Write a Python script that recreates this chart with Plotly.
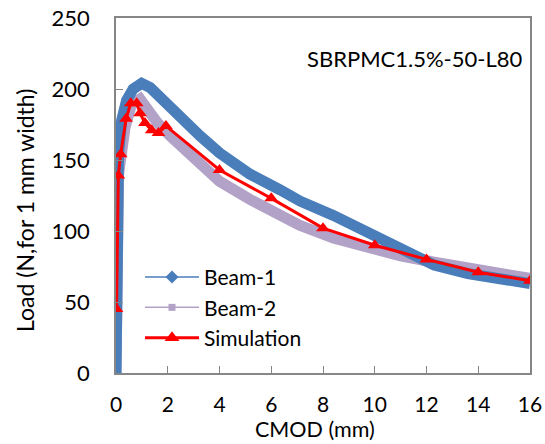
import plotly.graph_objects as go

# Measured load–CMOD response, beam 1
beam1_cmod = [0.0, 0.02, 0.05, 0.1, 0.22, 0.41, 0.66, 0.99, 1.32, 1.64, 2.09, 2.86,
              3.25, 4.0, 5.18, 6.34, 7.12, 8.4, 9.7, 11.0, 12.3, 13.6, 14.85, 16.0]
beam1_load = [0, 60, 136, 155, 178, 192, 200, 204, 201, 195, 186, 174,
              167, 155, 140, 129, 121, 111, 100, 87, 76, 70, 65.5, 63]

# Measured load–CMOD response, beam 2
beam2_cmod = [0.0, 0.02, 0.1, 0.35, 0.6, 0.93, 1.19, 1.57, 2.09, 2.86, 4.0, 5.2,
              6.34, 7.1, 8.4, 9.05, 9.7, 11.0, 12.3, 13.6, 14.85, 16.0]
beam2_load = [0, 60, 140, 173, 189, 193, 185, 177, 167, 153, 135, 122,
              111, 104, 95, 91.5, 88, 82.5, 78, 73.7, 69.7, 66.6]

# Numerical simulation
sim_cmod = [0.02, 0.09, 0.18, 0.39, 0.57, 0.8, 0.93, 1.12, 1.38, 1.64, 1.93,
            4.0, 6.0, 8.0, 10.0, 12.0, 14.0, 16.0]
sim_load = [45, 139, 154, 179, 190, 190, 183, 176, 171, 169, 174,
            143, 123, 102, 90, 80, 71, 65]

x_ticks = [0, 2, 4, 6, 8, 10, 12, 14, 16]
y_ticks = [0, 50, 100, 150, 200, 250]

BLUE = "#4a7ebb"
PURPLE = "#b3a2c7"
RED = "#ff0000"
AXIS = "#868686"
FONT = "Lato"

fig = go.Figure()

# Dense experimental records drawn as thick bands
fig.add_trace(go.Scatter(x=beam2_cmod, y=beam2_load, mode="lines",
                         line=dict(color=PURPLE, width=11), showlegend=False,
                         hoverinfo="skip"))
fig.add_trace(go.Scatter(x=beam1_cmod, y=beam1_load, mode="lines",
                         line=dict(color=BLUE, width=11), showlegend=False,
                         hoverinfo="skip"))
fig.add_trace(go.Scatter(x=sim_cmod, y=sim_load, mode="lines+markers",
                         line=dict(color=RED, width=3),
                         marker=dict(symbol="triangle-up", size=12, color=RED),
                         showlegend=False))

# Legend entries
fig.add_trace(go.Scatter(x=[None], y=[None], mode="lines+markers", name="Beam-1",
                         line=dict(color=BLUE, width=1.5),
                         marker=dict(symbol="diamond", size=10, color=BLUE)))
fig.add_trace(go.Scatter(x=[None], y=[None], mode="lines+markers", name="Beam-2",
                         line=dict(color=PURPLE, width=1.5),
                         marker=dict(symbol="square", size=7, color=PURPLE)))
fig.add_trace(go.Scatter(x=[None], y=[None], mode="lines+markers", name="Simulation",
                         line=dict(color=RED, width=3),
                         marker=dict(symbol="triangle-up", size=13, color=RED)))

fig.update_layout(
    width=545, height=444,
    margin=dict(l=116, r=15, t=18, b=71),
    paper_bgcolor="white", plot_bgcolor="white",
    font=dict(family=FONT, size=22, color="black"),
    showlegend=True,
    legend=dict(x=0.058, y=0.327, xanchor="left", yanchor="top",
                bgcolor="rgba(0,0,0,0)", font=dict(size=21),
                itemwidth=54, tracegroupgap=0),
    xaxis=dict(range=[0, 16], tickvals=x_ticks, ticks="inside", ticklen=7,
               tickcolor=AXIS, showline=True, linecolor=AXIS, linewidth=1.5,
               mirror=True, showgrid=False, zeroline=False, automargin=False,
               ticklabelstandoff=12, tickfont=dict(size=21)),
    yaxis=dict(range=[0, 250], tickvals=y_ticks, ticks="inside", ticklen=7,
               tickcolor=AXIS, showline=True, linecolor=AXIS, linewidth=1.5,
               mirror=True, showgrid=False, zeroline=False, automargin=False,
               ticklabelstandoff=20, tickfont=dict(size=22)),
    annotations=[
        dict(text="SBRPMC1.5%-50-L80", x=0.989, y=0.887,
             xref="paper", yref="paper", xanchor="right", yanchor="middle",
             showarrow=False, font=dict(size=22)),
        # Axis titles
        dict(text="CMOD (mm)", x=0.481, y=-0.197, xref="paper", yref="paper",
             xanchor="center", yanchor="bottom", showarrow=False,
             borderpad=0, font=dict(size=21.5)),
        dict(text="Load (N,for 1 mm width)", x=-0.22, y=0.459, xref="paper",
             yref="paper", xanchor="center", yanchor="middle", textangle=-90,
             showarrow=False, font=dict(size=23)),
    ],
)

fig.write_html("out.html")
